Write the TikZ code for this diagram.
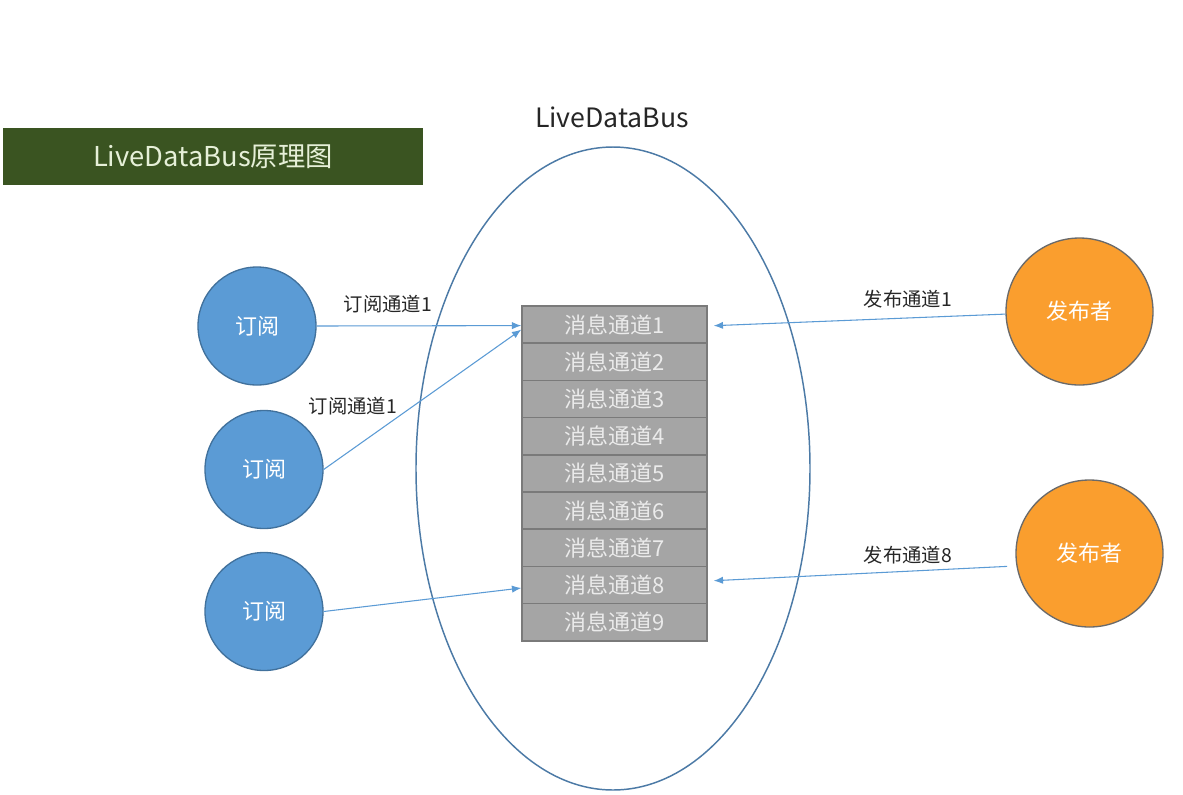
\documentclass[tikz,border=0pt]{standalone}
\usepackage{fontspec}
\setmainfont{Noto Sans CJK SC}
\usetikzlibrary{arrows.meta,shapes.geometric}
\definecolor{subfill}{HTML}{5B9BD5}
\definecolor{subdraw}{HTML}{41719C}
\definecolor{pubfill}{HTML}{FA9E2E}
\definecolor{pubdraw}{HTML}{6A6A6A}
\definecolor{boxfill}{HTML}{A5A5A5}
\definecolor{boxdraw}{HTML}{7A7A7A}
\definecolor{titlebg}{HTML}{3A5421}
\definecolor{titletext}{HTML}{E6F0D8}
\definecolor{busline}{HTML}{4C7AA6}
\definecolor{arrline}{HTML}{5B9BD5}
\tikzset{
  subnode/.style={circle,draw=subdraw,fill=subfill,line width=1pt,minimum size=88.5pt,inner sep=0pt,text=white,font=\fontsize{16.5pt}{18pt}\selectfont},
  pubnode/.style={circle,draw=pubdraw,fill=pubfill,line width=1pt,minimum size=110.25pt,inner sep=0pt,text=white,font=\fontsize{16.5pt}{18pt}\selectfont},
  chanbox/.style={rectangle,draw=boxdraw,fill=boxfill,line width=1.1pt,minimum width=138.75pt,minimum height=27.9pt,inner sep=0pt,text=white!92!black,font=\fontsize{16.5pt}{18pt}\selectfont},
  arr/.style={draw=arrline,line width=0.8pt,-{Latex[length=7pt,width=5.5pt]},arrline},
  lbl/.style={text=black!85,font=\fontsize{14.5pt}{16pt}\selectfont,inner sep=0pt}
}
\begin{document}
\begin{tikzpicture}[x=0.75pt,y=-0.75pt]
\fill[white] (0,0) rectangle (1183,794);
\useasboundingbox (0,0) rectangle (1183,794);
% title
\node[rectangle,fill=titlebg,minimum width=315pt,minimum height=42.75pt,inner sep=0pt,text=titletext,font=\fontsize{20.5pt}{22pt}\selectfont] (title) at (213,156.5) {LiveDataBus原理图};
% bus ellipse
\node[ellipse,draw=busline,line width=1.1pt,minimum width=295.5pt,minimum height=482.25pt,inner sep=0pt] (bus) at (613,468.5) {};
\node[font=\fontsize{20pt}{22pt}\selectfont,text=black!85,inner sep=0pt] (buslbl) at (612,117) {LiveDataBus};
% channels
\foreach \i in {1,...,9}{
  \node[chanbox] (m\i) at (614.5,{306+37.2*(\i-0.5)}) {消息通道\i};
}
% subscribers
\node[subnode] (s1) at (257,326) {订阅};
\node[subnode] (s2) at (264,469.5) {订阅};
\node[subnode] (s3) at (264,611.5) {订阅};
% publishers
\node[pubnode] (p1) at (1079.5,311.5) {发布者};
\node[pubnode] (p2) at (1089.5,553.5) {发布者};
% arrows
\draw[arr] (s1.east) -- ([yshift=-0.75pt]m1.west);
\draw[arr] (s2.east) -- ([yshift=-3.75pt]m1.west);
\draw[arr] (s3.east) -- ([yshift=-2.25pt]m8.west);
\draw[arr,shorten >=4.5pt] (p1.182) -- ([yshift=-1pt]m1.east);
\draw[arr,shorten >=4.5pt] ([xshift=-7pt]p2.190) -- ([yshift=3pt]m8.east);
% labels
\node[lbl] (l1) at (388,304) {订阅通道1};
\node[lbl] (l2) at (353,406.5) {订阅通道1};
\node[lbl] (l3) at (908,299) {发布通道1};
\node[lbl] (l4) at (908,555) {发布通道8};
\end{tikzpicture}
\end{document}
